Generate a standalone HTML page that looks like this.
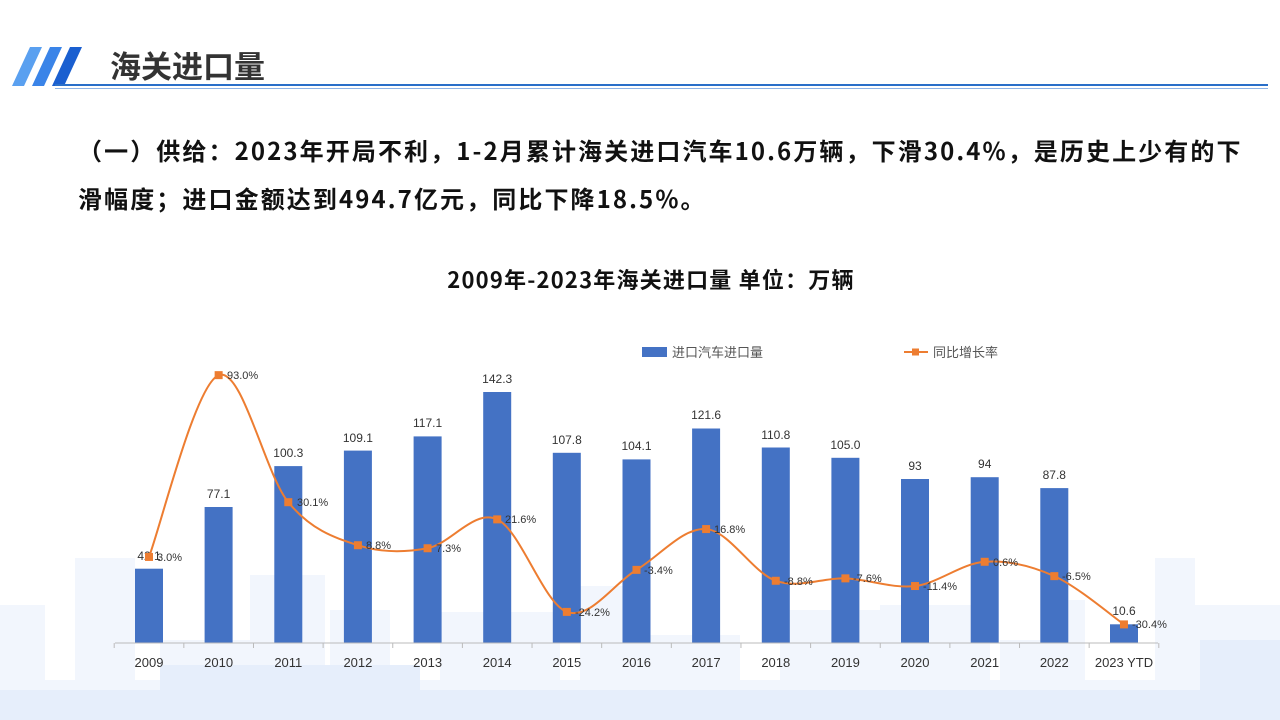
<!DOCTYPE html>
<html><head><meta charset="utf-8"><style>
body{margin:0;width:1280px;height:720px;overflow:hidden;background:#fff;font-family:"Liberation Sans","Noto Sans CJK SC",sans-serif;position:relative}
.t{position:absolute;left:78px;font-weight:bold;font-size:24px;letter-spacing:2.1px;color:#111;line-height:48px;top:126px;white-space:nowrap;font-family:"Noto Sans CJK SC",sans-serif}
</style></head><body>
<svg width="1280" height="720" style="position:absolute;left:0;top:0">
<g fill="#f2f6fd">
<rect x="0" y="605" width="45" height="115"/><rect x="75" y="558" width="60" height="162"/><rect x="160" y="640" width="90" height="80"/>
<rect x="250" y="575" width="75" height="145"/><rect x="330" y="610" width="60" height="110"/><rect x="440" y="612" width="120" height="108"/>
<rect x="580" y="586" width="70" height="134"/><rect x="640" y="635" width="100" height="85"/><rect x="780" y="610" width="110" height="110"/>
<rect x="880" y="605" width="110" height="115"/><rect x="1000" y="640" width="50" height="80"/><rect x="1050" y="600" width="35" height="120"/>
<rect x="1155" y="558" width="40" height="162"/><rect x="1195" y="605" width="85" height="115"/><rect x="0" y="680" width="1280" height="40"/>
</g>
<g fill="#e6eefb"><rect x="0" y="690" width="1280" height="30"/><rect x="1200" y="640" width="80" height="80"/><rect x="160" y="665" width="260" height="55"/></g>
<polygon points="12,86 30,47 42,47 24,86" fill="#5aa0f0"/>
<polygon points="32,86 50,47 62,47 44,86" fill="#3a84e8"/>
<polygon points="52,86 70,47 82,47 64,86" fill="#1a5fd0"/>
<text x="110" y="78" font-size="31" font-weight="bold" fill="#333" font-family="Noto Sans CJK SC,sans-serif">海关进口量</text>
<rect x="55" y="84" width="1213" height="2" fill="#2a6fc9"/>
<rect x="55" y="88" width="1213" height="1" fill="#8fb4e6"/>
<text x="651" y="288" font-size="22" font-weight="bold" fill="#111" text-anchor="middle" letter-spacing="1.2" font-family="Noto Sans CJK SC,sans-serif">2009年-2023年海关进口量  单位：万辆</text>
<rect x="642" y="347" width="25" height="10" fill="#4472c4"/>
<text x="672" y="357" font-size="13" fill="#555" font-family="Liberation Sans,Noto Sans CJK SC,sans-serif">进口汽车进口量</text>
<line x1="904" y1="352" x2="928" y2="352" stroke="#ed7d31" stroke-width="2"/><rect x="912" y="348.5" width="7" height="7" fill="#ed7d31"/>
<text x="933" y="357" font-size="13" fill="#555" font-family="Liberation Sans,Noto Sans CJK SC,sans-serif">同比增长率</text>
<g fill="#4472c4">
<rect x="135" y="568.7" width="28" height="74.3"/><rect x="204.6" y="507" width="28" height="136"/><rect x="274.3" y="466.1" width="28" height="176.9"/>
<rect x="343.9" y="450.6" width="28" height="192.4"/><rect x="413.6" y="436.4" width="28" height="206.6"/><rect x="483.2" y="392" width="28" height="251"/>
<rect x="552.8" y="452.8" width="28" height="190.2"/><rect x="622.5" y="459.4" width="28" height="183.6"/><rect x="692.1" y="428.5" width="28" height="214.5"/>
<rect x="761.8" y="447.5" width="28" height="195.5"/><rect x="831.4" y="457.8" width="28" height="185.2"/><rect x="901" y="479" width="28" height="164"/>
<rect x="970.7" y="477.2" width="28" height="165.8"/><rect x="1040.3" y="488.1" width="28" height="154.9"/><rect x="1110" y="624.3" width="28" height="18.7"/>
</g>
<g font-size="12" fill="#333" text-anchor="middle" font-family="Liberation Sans,sans-serif">
<text x="149" y="560">42.1</text><text x="218.6" y="498">77.1</text><text x="288.3" y="457">100.3</text><text x="357.9" y="442">109.1</text>
<text x="427.6" y="427">117.1</text><text x="497.2" y="383">142.3</text><text x="566.8" y="444">107.8</text><text x="636.5" y="450">104.1</text>
<text x="706.1" y="419">121.6</text><text x="775.8" y="439">110.8</text><text x="845.4" y="449">105.0</text><text x="915" y="470">93</text>
<text x="984.7" y="468">94</text><text x="1054.3" y="479">87.8</text><text x="1124" y="615">10.6</text>
</g>
<line x1="115" y1="643" x2="1158" y2="643" stroke="#bbb"/>
<g stroke="#bbb" id="ticks"></g>
<path id="ln" fill="none" stroke="#ed7d31" stroke-width="2"/>
<g fill="#ed7d31" id="mk"></g>
<g font-size="11" fill="#333" font-family="Liberation Sans,sans-serif">
<text x="157" y="561">3.0%</text><text x="227" y="379">93.0%</text><text x="297" y="506">30.1%</text><text x="366" y="549">8.8%</text>
<text x="436" y="552">7.3%</text><text x="505" y="523">21.6%</text><text x="575" y="616">-24.2%</text><text x="644" y="574">-3.4%</text>
<text x="714" y="533">16.8%</text><text x="784" y="585">-8.8%</text><text x="853" y="582">-7.6%</text><text x="923" y="590">-11.4%</text>
<text x="993" y="566">0.6%</text><text x="1062" y="580">-6.5%</text><text x="1132" y="628">-30.4%</text>
</g>
<g font-size="13" fill="#333" text-anchor="middle" font-family="Liberation Sans,sans-serif">
<text x="149" y="667">2009</text><text x="218.6" y="667">2010</text><text x="288.3" y="667">2011</text><text x="357.9" y="667">2012</text>
<text x="427.6" y="667">2013</text><text x="497.2" y="667">2014</text><text x="566.8" y="667">2015</text><text x="636.5" y="667">2016</text>
<text x="706.1" y="667">2017</text><text x="775.8" y="667">2018</text><text x="845.4" y="667">2019</text><text x="915" y="667">2020</text>
<text x="984.7" y="667">2021</text><text x="1054.3" y="667">2022</text><text x="1124" y="667">2023 YTD</text>
</g>
</svg>
<div class="t">（一）供给：2023年开局不利，1-2月累计海关进口汽车10.6万辆，下滑30.4%，是历史上少有的下<br>滑幅度；进口金额达到494.7亿元，同比下降18.5%。</div>
<script>
var v=[3,93,30.1,8.8,7.3,21.6,-24.2,-3.4,16.8,-8.8,-7.6,-11.4,0.6,-6.5,-30.4];
var p=v.map(function(a,i){return [149+69.64*i,563-2.02*a]});
var d="M"+p[0];
for(var i=0;i<p.length-1;i++){var a=p[i-1]||p[i],b=p[i],c=p[i+1],e=p[i+2]||c;
d+=" C"+(b[0]+(c[0]-a[0])/6)+","+(b[1]+(c[1]-a[1])/6)+" "+(c[0]-(e[0]-b[0])/6)+","+(c[1]-(e[1]-b[1])/6)+" "+c;}
document.getElementById("ln").setAttribute("d",d);
var m="";p.forEach(function(q){m+='<rect x="'+(q[0]-4)+'" y="'+(q[1]-4)+'" width="8" height="8"/>'});
document.getElementById("mk").innerHTML=m;
var t="";for(var i=0;i<=15;i++){var x=114.2+69.64*i;t+='<line x1="'+x+'" y1="643" x2="'+x+'" y2="648"/>'}
document.getElementById("ticks").innerHTML=t;
</script>
</body></html>
